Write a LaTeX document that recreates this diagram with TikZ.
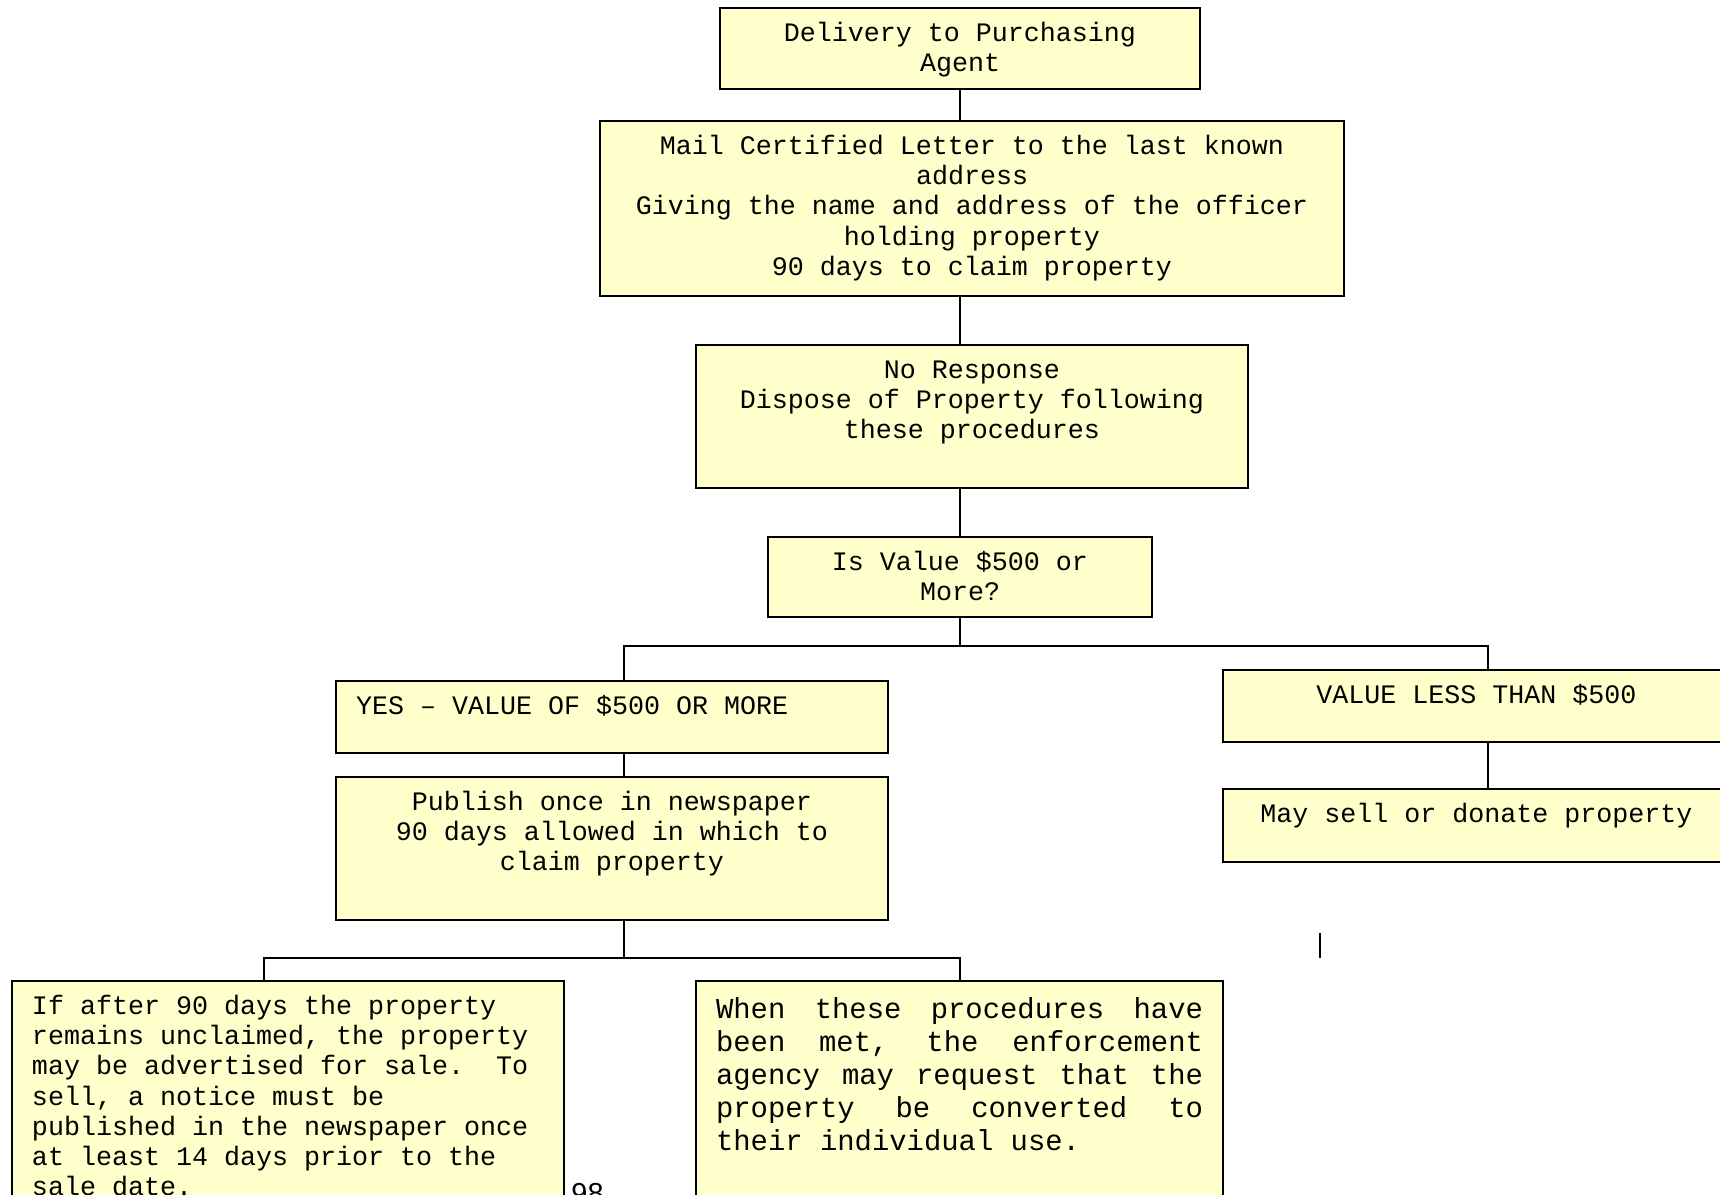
\documentclass[tikz,border=0pt]{standalone}
\usepackage{fontspec}
\setmonofont{Liberation Mono}
\newfontfamily\pagefont{Liberation Sans}
\definecolor{boxfill}{HTML}{FFFFCC}

\newcommand{\boxtext}[4]{\parbox[c][\dimexpr0.45pt*#1-\dimexpr\pgfkeysvalueof{/pgf/inner ysep}*2\relax\relax][t]{\dimexpr0.45pt*#2-18pt\relax}{#3\strut#4}}

\tikzstyle{stepbox} = [draw=black, fill=boxfill, line width=0.9pt, rectangle,
  inner xsep=9pt, inner ysep=5.5pt, font=\ttfamily\fontsize{12}{13.6}\selectfont]
\tikzstyle{notebox} = [stepbox, inner ysep=6.4pt, font=\ttfamily\fontsize{13}{14.85}\selectfont]
\tikzstyle{link} = [draw=black, line width=0.9pt]
\tikzstyle{pagenum} = [anchor=base west, inner sep=0pt,
  font=\pagefont\fontsize{13}{15}\selectfont]

\begin{document}
\begin{tikzpicture}[x=0.45pt, y=-0.45pt]
        \useasboundingbox (0,0) rectangle (1720,1194);

        \node [stepbox] (delivery)  at (960,48.5)    {\boxtext{81}{480}{\centering}{Delivery to Purchasing\\Agent}};
        \node [stepbox] (mailbox)   at (972,208.5)   {\boxtext{175}{744}{\centering}{Mail Certified Letter to the last known\\address\\Giving the name and address of the officer\\holding property\\90 days to claim property}};
        \node [stepbox] (noresp)    at (972,416.5)   {\boxtext{143}{552}{\centering}{No Response\\Dispose of Property following\\these procedures}};
        \node [stepbox] (valueq)    at (960,577)     {\boxtext{80}{384}{\centering}{Is Value \$500 or\\More?}};
        \node [stepbox] (yesbox)    at (612,717)     {\boxtext{72}{552}{\raggedright}{YES – VALUE OF \$500 OR MORE}};
        \node [stepbox] (publish)   at (612,848.5)   {\boxtext{143}{552}{\centering}{Publish once in newspaper\\90 days allowed in which to\\claim property}};
        \node [stepbox] (lessbox)   at (1476.5,706)  {\boxtext{72}{507}{\centering}{VALUE LESS THAN \$500}};
        \node [stepbox] (sellbox)   at (1476.5,825.5){\boxtext{73}{507}{\centering}{May sell or donate property}};
        \node [stepbox] (unclaimed) at (288,1120.5)  {\boxtext{279}{552}{\raggedright}{If after 90 days the property\\remains unclaimed, the property\\may be advertised for sale.\ \ To\\sell, a notice must be\\published in the newspaper once\\at least 14 days prior to the\\sale date.}};
        \node [notebox] (convert)   at (959.5,1120.5){\boxtext{279}{527}{\spaceskip=7.8pt plus 1fil\parfillskip=0pt plus 1fill\relax}{When these procedures have\linebreak been met, the enforcement\linebreak agency may request that the\linebreak property be converted to\linebreak their individual use.}};
        \node [pagenum] (pageno)    at (571,1203)    {98};

        \coordinate (spine)    at (960,0);
        \coordinate (fork1)    at (960,646);
        \coordinate (yesdrop)  at (624,646);
        \coordinate (lessdrop) at (1488,646);
        \coordinate (fork2)    at (624,958);
        \coordinate (ifdrop)   at (264,958);
        \coordinate (whendrop) at (960,958);
        \coordinate (ticktop)  at (1320,933);
        \coordinate (tickbot)  at (1320,958);

        \draw[link] (delivery.south) -- (spine |- mailbox.north);
        \draw[link] (spine |- mailbox.south) -- (spine |- noresp.north);
        \draw[link] (spine |- noresp.south) -- (spine |- valueq.north);
        \draw[link] (valueq.south) -- (fork1);
        \draw[link] (yesdrop |- yesbox.north) -- (yesdrop) -- (lessdrop) -- (lessdrop |- lessbox.north);
        \draw[link] (lessdrop |- lessbox.south) -- (lessdrop |- sellbox.north);
        \draw[link] (yesdrop |- yesbox.south) -- (yesdrop |- publish.north);
        \draw[link] (yesdrop |- publish.south) -- (fork2);
        \draw[link] (ifdrop |- unclaimed.north) -- (ifdrop) -- (whendrop) -- (whendrop |- convert.north);
        \draw[link] (ticktop) -- (tickbot);
      \end{tikzpicture}
\end{document}
